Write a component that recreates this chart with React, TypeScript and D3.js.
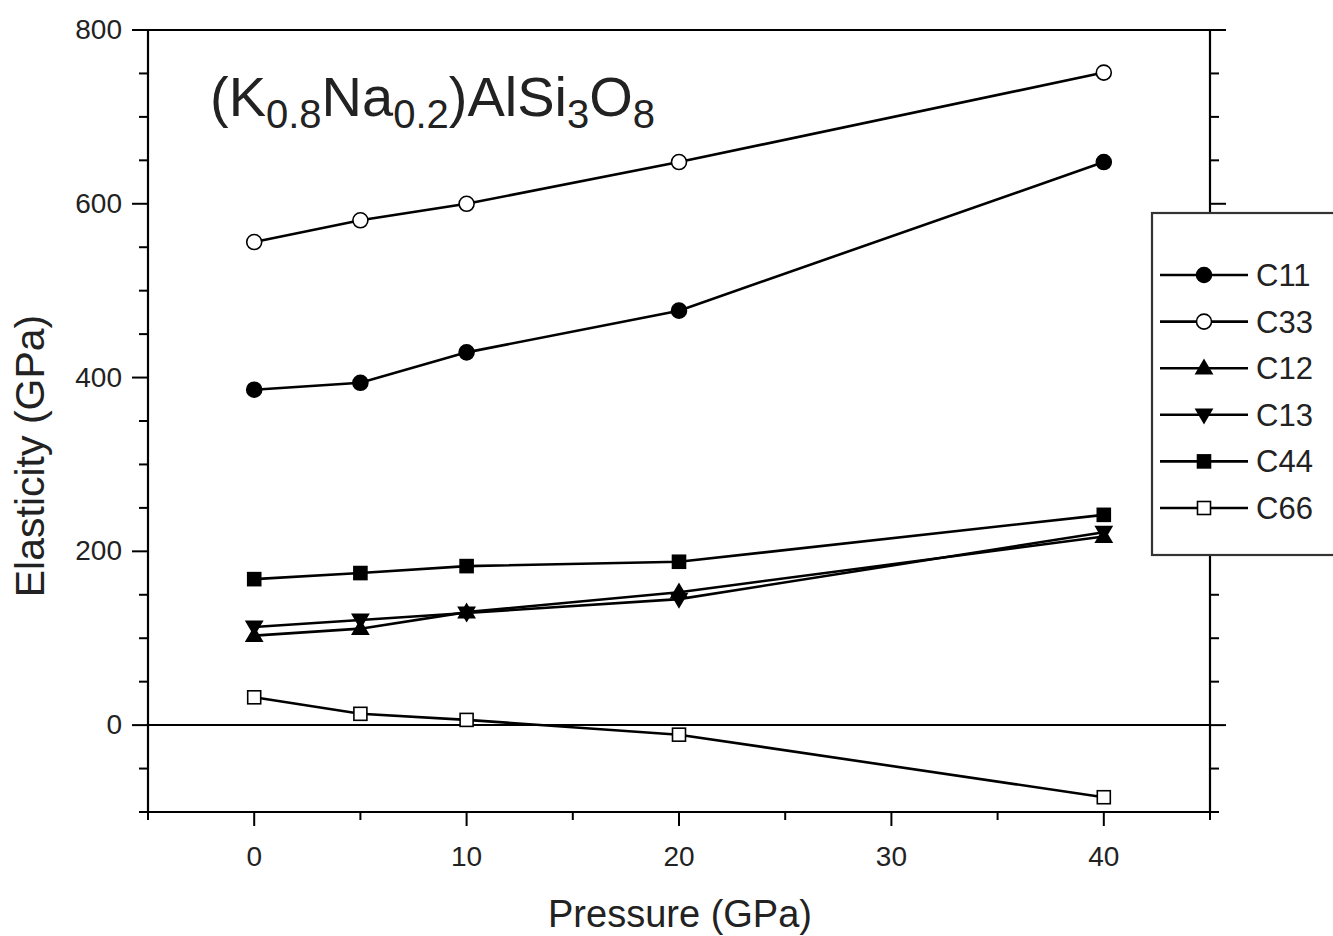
import React from "react";
import * as d3 from "d3";

const pressure = [0, 5, 10, 20, 40];
const c11 = [386, 394, 429, 477, 648];
const c33 = [556, 581, 600, 648, 751];
const c12 = [103, 111, 130, 153, 217];
const c13 = [113, 121, 129, 145, 222];
const c44 = [168, 175, 183, 188, 242];
const c66 = [32, 13, 6, -11, -83];

const seriesNames = ["C11", "C33", "C12", "C13", "C44", "C66"];
const seriesValues = [c11, c33, c12, c13, c44, c66];
const seriesMarkers = ["circleFilled", "circleOpen", "triUp", "triDown", "squareFilled", "squareOpen"];

const xMajorTicks = [0, 10, 20, 30, 40];
const xMinorTicks = [-5, 5, 15, 25, 35, 45];
const yMajorTicks = [0, 200, 400, 600, 800];
const yMinorTicks = [-100, -50, 50, 100, 150, 250, 300, 350, 450, 500, 550, 650, 700, 750];

const W = 1333;
const H = 936;
const left = 148, right = 1210, top = 30, bottom = 812;
const font = "'Liberation Sans', Arial, Helvetica, sans-serif";

function Marker({ type, x, y }: { type: string; x: number; y: number }) {
  const sw = 1.6;
  if (type === "circleFilled") return <circle cx={x} cy={y} r={7.5} fill="#000" stroke="#000" strokeWidth={sw} />;
  if (type === "circleOpen") return <circle cx={x} cy={y} r={7.5} fill="#fff" stroke="#000" strokeWidth={sw} />;
  if (type === "squareFilled") return <rect x={x - 6.5} y={y - 6.5} width={13} height={13} fill="#000" stroke="#000" strokeWidth={sw} />;
  if (type === "squareOpen") return <rect x={x - 6.5} y={y - 6.5} width={13} height={13} fill="#fff" stroke="#000" strokeWidth={sw} />;
  if (type === "triUp") {
    const s = 8;
    return <path d={`M${x},${y - s} L${x + s},${y + s * 0.7} L${x - s},${y + s * 0.7} Z`} fill="#000" stroke="#000" strokeWidth={sw} />;
  }
  const s = 8;
  return <path d={`M${x},${y + s} L${x + s},${y - s * 0.7} L${x - s},${y - s * 0.7} Z`} fill="#000" stroke="#000" strokeWidth={sw} />;
}

export default function App() {
  const x = d3.scaleLinear().domain([-5, 45]).range([left, right]);
  const y = d3.scaleLinear().domain([-100, 800]).range([bottom, top]);
  const line = d3.line<number>().x((_, i) => x(pressure[i])).y((d) => y(d));

  const legX = 1152, legY = 213, legH = 342;
  const legRow0 = 275, legStep = 46.6;

  return (
    <svg width={W} height={H} style={{ position: "absolute", left: 0, top: 0, background: "#fff" }} fontFamily={font}>
      <rect x={0} y={0} width={W} height={H} fill="#fff" />
      <line x1={left} x2={right} y1={y(0)} y2={y(0)} stroke="#000" strokeWidth={2} />
      <line x1={left} x2={right} y1={top} y2={top} stroke="#000" strokeWidth={2.2} />
      <line x1={left} x2={right} y1={bottom} y2={bottom} stroke="#000" strokeWidth={2.2} />
      <line x1={left} x2={left} y1={top} y2={bottom} stroke="#000" strokeWidth={2.2} />
      <line x1={right} x2={right} y1={top} y2={bottom} stroke="#000" strokeWidth={2.2} />
      {xMajorTicks.map((t) => (
        <g key={"xm" + t}>
          <line x1={x(t)} x2={x(t)} y1={bottom} y2={bottom + 14} stroke="#000" strokeWidth={2} />
          <text x={x(t)} y={bottom + 54} fontSize={28} textAnchor="middle" fill="#222">{t}</text>
        </g>
      ))}
      {xMinorTicks.map((t) => (
        <line key={"xn" + t} x1={x(t)} x2={x(t)} y1={bottom} y2={bottom + 8} stroke="#000" strokeWidth={2} />
      ))}
      {yMajorTicks.map((t) => (
        <g key={"ym" + t}>
          <line x1={left - 16} x2={left} y1={y(t)} y2={y(t)} stroke="#000" strokeWidth={2} />
          <line x1={right} x2={right + 16} y1={y(t)} y2={y(t)} stroke="#000" strokeWidth={2} />
          <text x={left - 26} y={y(t) + 9} fontSize={28} textAnchor="end" fill="#222">{t}</text>
        </g>
      ))}
      {yMinorTicks.map((t) => (
        <g key={"yn" + t}>
          <line x1={left - 9} x2={left} y1={y(t)} y2={y(t)} stroke="#000" strokeWidth={2} />
          <line x1={right} x2={right + 9} y1={y(t)} y2={y(t)} stroke="#000" strokeWidth={2} />
        </g>
      ))}
      <text x={680} y={927} fontSize={38} textAnchor="middle" fill="#222">Pressure (GPa)</text>
      <text transform={`translate(44,456) rotate(-90)`} fontSize={41} textAnchor="middle" fill="#222">Elasticity (GPa)</text>
      <text x={210} y={116} fontSize={56} fill="#222">
        (K<tspan fontSize={40} dy={12}>0.8</tspan>
        <tspan dy={-12}>Na</tspan>
        <tspan fontSize={40} dy={12}>0.2</tspan>
        <tspan dy={-12}>)AlSi</tspan>
        <tspan fontSize={40} dy={12}>3</tspan>
        <tspan dy={-12}>O</tspan>
        <tspan fontSize={40} dy={12}>8</tspan>
      </text>
      {seriesValues.map((vals, si) => (
        <g key={seriesNames[si]}>
          <path d={line(vals) || ""} fill="none" stroke="#000" strokeWidth={2.6} />
          {vals.map((v, i) => (
            <Marker key={i} type={seriesMarkers[si]} x={x(pressure[i])} y={y(v)} />
          ))}
        </g>
      ))}
      <rect x={legX} y={legY} width={W - legX + 10} height={legH} fill="#fff" stroke="#333" strokeWidth={2.2} />
      {seriesNames.map((n, i) => {
        const ly = legRow0 + i * legStep;
        return (
          <g key={"leg" + n}>
            <line x1={1160} x2={1248} y1={ly} y2={ly} stroke="#000" strokeWidth={2.6} />
            <Marker type={seriesMarkers[i]} x={1204} y={ly} />
            <text x={1256} y={ly + 11} fontSize={31} fill="#222">{n}</text>
          </g>
        );
      })}
    </svg>
  );
}
